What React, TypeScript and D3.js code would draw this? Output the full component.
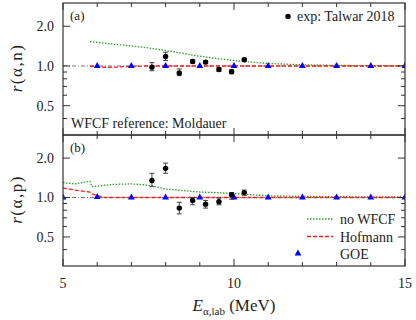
import React from 'react';
import * as d3 from 'd3';

// axes
const xMajor = [5, 10, 15];
const xMinor = [6, 7, 8, 9, 11, 12, 13, 14];
const yMajor = [0.5, 1.0, 2.0];
const yMajorLabels = ['0.5', '1.0', '2.0'];
const yMinor = [0.4, 0.6, 0.7, 0.8, 0.9];

// exp: Talwar 2018
const expE = [7.6, 8.0, 8.4, 8.79, 9.17, 9.56, 9.93, 10.3];
const expAn = [0.98, 1.18, 0.885, 1.08, 1.07, 0.94, 0.905, 1.115];
const expAnLo = [0.92, 1.1, 0.845, 1.05, 1.04, 0.91, 0.875, 1.085];
const expAnHi = [1.06, 1.27, 0.95, 1.11, 1.1, 0.97, 0.935, 1.145];
const expAp = [1.35, 1.67, 0.83, 0.95, 0.89, 0.93, 1.05, 1.09];
const expApLo = [1.21, 1.53, 0.75, 0.88, 0.83, 0.88, 0.97, 1.04];
const expApHi = [1.53, 1.83, 0.92, 1.0, 0.95, 0.99, 1.09, 1.14];

// GOE
const goeEa = [6, 7, 8, 9, 10, 11, 12, 13, 14, 15];
const goeAn = [1.0, 1.0, 1.0, 1.0, 1.0, 1.0, 1.0, 1.0, 1.0, 1.0];
const goeEb = [5, 6, 7, 8, 9, 10, 11, 12, 13, 14, 15];
const goeAp = [1.0, 1.01, 1.0, 1.0, 1.0, 1.0, 1.0, 1.0, 1.0, 1.0, 1.0];

// no WFCF
const noEa = [5.79, 6.5, 7.0, 7.5, 8.0, 8.5, 8.84, 9.5, 10.0, 10.3, 11, 12, 13, 14, 15];
const noAn = [1.53, 1.46, 1.42, 1.37, 1.31, 1.25, 1.2, 1.14, 1.1, 1.08, 1.045, 1.02, 1.01, 1.005, 1.005];
const noEb = [5.0, 5.35, 5.79, 5.84, 6.2, 6.5, 7.0, 7.4, 7.7, 8.0, 8.5, 9.0, 9.5, 10.0, 10.5, 11, 12, 13, 14, 15];
const noAp = [1.3, 1.27, 1.33, 1.21, 1.24, 1.26, 1.27, 1.25, 1.21, 1.16, 1.13, 1.1, 1.09, 1.07, 1.05, 1.03, 1.02, 1.015, 1.01, 1.01];

// Hofmann
const hofEa = [5.79, 6.0, 6.3, 6.6, 7.0, 7.5, 8, 9, 10, 11, 12, 13, 14, 15];
const hofAn = [1.0, 0.985, 0.977, 0.982, 0.995, 1.0, 1.0, 1.0, 1.0, 1.0, 1.0, 1.0, 1.0, 1.0];
const hofEb = [5.0, 5.35, 5.79, 5.84, 6.03, 6.23, 6.6, 7, 8, 9, 10, 11, 12, 13, 14, 15];
const hofAp = [1.18, 1.14, 1.1, 1.065, 1.03, 1.0, 1.0, 1.0, 1.0, 1.0, 1.0, 1.0, 1.0, 1.0, 1.0, 1.0];

const SERIF = 'Times New Roman';
const TXT = { fontFamily: SERIF };
const AXIS = '#333';
const GREEN = '#2e9e2e';
const RED = '#ff1a1a';
const BLUE = '#0000ff';

const x = d3.scaleLinear().domain([5, 15]).range([63, 405]);
const tri = d3.symbol(d3.symbolTriangle, 20)();

type PanelProps = {
  top: number;
  bottom: number;
  tag: string;
  label: string;
  expY: number[];
  expLo: number[];
  expHi: number[];
  goeE: number[];
  goeY: number[];
  noE: number[];
  noY: number[];
  hofE: number[];
  hofY: number[];
};

function Panel(p: PanelProps) {
  const y = d3.scaleLog().domain([0.3, 3]).range([p.bottom, p.top]);
  const line = (xs: number[], ys: number[]) =>
    d3.line<number>().x((d) => x(d)).y((_, i) => y(ys[i]))(xs) || '';
  const [x0, x1] = x.range();
  return (
    <g>
      <clipPath id={'clip' + p.tag}>
        <rect x={x0} y={p.top} width={x1 - x0} height={p.bottom - p.top} />
      </clipPath>
      <g clipPath={`url(#clip${p.tag})`}>
        <line x1={x0} x2={x1} y1={y(1)} y2={y(1)} stroke="#555" strokeWidth={0.8} strokeDasharray="4,2,1,2" />
        <path d={line(p.noE, p.noY)} fill="none" stroke={GREEN} strokeWidth={1.3} strokeDasharray="1.5,1.5" />
        <path d={line(p.hofE, p.hofY)} fill="none" stroke={RED} strokeWidth={1.3} strokeDasharray="4,2" />
        {p.goeE.map((e, i) => (
          <path key={i} d={tri} fill={BLUE} transform={`translate(${x(e)},${y(p.goeY[i])})`} />
        ))}
        {expE.map((e, i) => (
          <g key={i} stroke="#444" strokeWidth={1}>
            <line x1={x(e)} x2={x(e)} y1={y(p.expLo[i])} y2={y(p.expHi[i])} />
            <line x1={x(e) - 2.5} x2={x(e) + 2.5} y1={y(p.expLo[i])} y2={y(p.expLo[i])} />
            <line x1={x(e) - 2.5} x2={x(e) + 2.5} y1={y(p.expHi[i])} y2={y(p.expHi[i])} />
            <circle cx={x(e)} cy={y(p.expY[i])} r={2.7} fill="#000" stroke="none" />
          </g>
        ))}
      </g>
      <g stroke={AXIS} strokeWidth={1}>
        {xMajor.concat(xMinor).map((t) => {
          const len = xMajor.includes(t) ? 7 : 4;
          return (
            <g key={'x' + t}>
              <line x1={x(t)} x2={x(t)} y1={p.bottom} y2={p.bottom - len} />
              <line x1={x(t)} x2={x(t)} y1={p.top} y2={p.top + len} />
            </g>
          );
        })}
        {yMajor.concat(yMinor).map((t) => {
          const len = yMajor.includes(t) ? 7 : 4;
          return (
            <g key={'y' + t}>
              <line x1={x0} x2={x0 + len} y1={y(t)} y2={y(t)} />
              <line x1={x1} x2={x1 - len} y1={y(t)} y2={y(t)} />
            </g>
          );
        })}
        <rect x={x0} y={p.top} width={x1 - x0} height={p.bottom - p.top} fill="none" strokeWidth={1.2} />
      </g>
      {yMajor.map((t, i) => (
        <text key={t} x={54} y={y(t)} dy="0.35em" textAnchor="end" fontSize={14} fill="#222" fontFamily={SERIF} style={TXT}>
          {yMajorLabels[i]}
        </text>
      ))}
      <text x={70} y={p.top + 17} fontSize={13} fill="#222" fontFamily={SERIF} style={TXT}>({p.tag})</text>
      <text
        transform={`translate(22,${(p.top + p.bottom) / 2 - 1}) rotate(-90)`}
        textAnchor="middle"
        fontSize={17}
        fill="#222"
        letterSpacing={1.5}
        fontFamily={SERIF}
        style={TXT}
      >
        <tspan fontStyle="italic">r</tspan>(α,{p.label})
      </text>
    </g>
  );
}

export default function App() {
  return (
    <svg width={416} height={320} fontFamily={SERIF} style={{ position: 'absolute', left: 0, top: 0, fontFamily: SERIF }}>
      <rect width={416} height={320} fill="#fff" />
      <Panel
        top={3} bottom={135} tag="a" label="n"
        expY={expAn} expLo={expAnLo} expHi={expAnHi}
        goeE={goeEa} goeY={goeAn} noE={noEa} noY={noAn} hofE={hofEa} hofY={hofAn}
      />
      <Panel
        top={135} bottom={266} tag="b" label="p"
        expY={expAp} expLo={expApLo} expHi={expApHi}
        goeE={goeEb} goeY={goeAp} noE={noEb} noY={noAp} hofE={hofEb} hofY={hofAp}
      />
      <text x={71} y={128} fontSize={14} fill="#222" fontFamily={SERIF} style={TXT}>WFCF reference: Moldauer</text>
      {/* legend (a) */}
      <circle cx={288} cy={16.5} r={2.7} fill="#000" />
      <text x={297} y={21} fontSize={14} fill="#222" fontFamily={SERIF} style={TXT}>exp: Talwar 2018</text>
      {/* legend (b) */}
      <line x1={307} x2={333} y1={219} y2={219} stroke={GREEN} strokeWidth={1.3} strokeDasharray="1.5,1.5" />
      <text x={340} y={224} fontSize={14} fill="#222" fontFamily={SERIF} style={TXT}>no WFCF</text>
      <line x1={307} x2={333} y1={236.5} y2={236.5} stroke={RED} strokeWidth={1.3} strokeDasharray="4,2" />
      <text x={340} y={241.5} fontSize={14} fill="#222" fontFamily={SERIF} style={TXT}>Hofmann</text>
      <path d={tri} fill={BLUE} transform="translate(298,253.5)" />
      <text x={340} y={259} fontSize={14} fill="#222" fontFamily={SERIF} style={TXT}>GOE</text>
      {/* x tick labels */}
      {xMajor.map((t) => (
        <text key={t} x={x(t)} y={288} textAnchor="middle" fontSize={14} fill="#222" fontFamily={SERIF} style={TXT}>{t}</text>
      ))}
      <text x={234} y={311} textAnchor="middle" fontSize={17} fill="#222" fontFamily={SERIF} style={TXT}>
        <tspan fontStyle="italic">E</tspan>
        <tspan fontSize={11} dy={4}>α,lab</tspan>
        <tspan dy={-4}> (MeV)</tspan>
      </text>
    </svg>
  );
}
